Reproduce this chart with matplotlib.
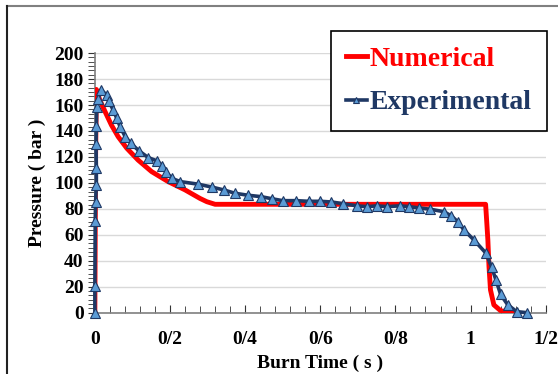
import matplotlib
matplotlib.use("Agg")
import matplotlib.pyplot as plt
from matplotlib.ticker import MultipleLocator
from matplotlib.lines import Line2D

exp_time = [0, 0.0, 0.001, 0.002, 0.004, 0.004, 0.003, 0.004, 0.005, 0.009, 0.016,
            0.031, 0.037, 0.049, 0.058, 0.067, 0.081, 0.096, 0.117, 0.142, 0.165,
            0.179, 0.189, 0.205, 0.227, 0.275, 0.311, 0.344, 0.373, 0.407, 0.442,
            0.471, 0.5, 0.536, 0.569, 0.6, 0.629, 0.66, 0.698, 0.724, 0.751, 0.778,
            0.811, 0.837, 0.862, 0.893, 0.929, 0.949, 0.967, 0.982, 1.009, 1.041,
            1.056, 1.068, 1.08, 1.099, 1.123, 1.149]
exp_pressure = [0, 20.5, 71, 85.5, 98.5, 111.7, 130, 144, 158.7, 164.6, 171.5,
                168, 163, 156, 150, 143.4, 135.5, 130.4, 124.8, 119.5, 117,
                113.3, 108.6, 103.5, 101, 99, 96.8, 94.5, 92, 90.5, 89.4,
                87.8, 86.3, 86.3, 85.8, 85.8, 85.3, 84, 82.3, 81.7, 82.3, 81.7,
                82.3, 81.7, 80.7, 79.7, 77.8, 74.5, 69.8, 63.8, 56, 45.8,
                35, 24.8, 14, 6, 0.8, 0]

# numerical data
num_time = [0, 0.002, 0.004, 0.013, 0.027, 0.044, 0.062, 0.085, 0.115, 0.151,
            0.195, 0.24, 0.28, 0.298, 0.32, 1.04, 1.043, 1.046, 1.049, 1.053,
            1.062, 1.08, 1.115]
num_pressure = [0, 120, 172, 164, 155, 144.6, 135.6, 126.7, 117.6, 108.7,
                101, 94.6, 88, 85.5, 83.5, 83.5, 70, 56, 35.5, 17.5,
                6, 1.5, 0]

x_ticks = [0, 0.2, 0.4, 0.6, 0.8, 1.0, 1.2]
x_labels = ["0", "0/2", "0/4", "0/6", "0/8", "1", "1/2"]

navy = "#1F3864"
plt.rcParams['font.family'] = ['Liberation Serif', 'DejaVu Serif']

fig = plt.figure(figsize=(5.58, 3.74), dpi=100)
ax = fig.add_axes([0.170, 0.164, 0.808, 0.694])

ax.plot(num_time, num_pressure, color='red', lw=3.5, label='Numerical', zorder=3)
ax.plot(exp_time, exp_pressure, color=navy, lw=2.6, marker='^', ms=7.5,
        markerfacecolor='#5B9BD5', markeredgecolor=navy, markeredgewidth=0.8,
        label='Experimental', zorder=4, clip_on=False)

ax.set_xlim(0, 1.2)
ax.set_ylim(0, 200)
ax.yaxis.set_major_locator(MultipleLocator(20))
ax.yaxis.set_minor_locator(MultipleLocator(20 / 6))
ax.set_xticks(x_ticks)
ax.set_xticklabels(x_labels)
ax.xaxis.set_minor_locator(MultipleLocator(0.04))

ax.grid(axis='y', color='#d9d9d9', lw=1)
ax.set_axisbelow(True)
for s in ['top', 'right']:
    ax.spines[s].set_visible(False)
for s in ['left', 'bottom']:
    ax.spines[s].set_color('#7f7f7f')
    ax.spines[s].set_linewidth(1.2)

ax.tick_params(axis='y', which='major', direction='out', length=5, color='#333333',
               labelsize=14, pad=3)
ax.tick_params(axis='y', which='minor', direction='out', length=5, color='#333333')
ax.tick_params(axis='x', which='major', direction='in', length=6, color='#333333',
               labelsize=14, pad=13)
ax.tick_params(axis='x', which='minor', direction='in', length=5, color='#333333')
for lab in ax.get_xticklabels() + ax.get_yticklabels():
    lab.set_fontweight('bold')

ax.set_xlabel('Burn Time ( s )', fontsize=14, fontweight='bold', labelpad=5)
ax.set_ylabel('Pressure ( bar )', fontsize=14, fontweight='bold', labelpad=6)

leg = fig.legend(loc='upper right', bbox_to_anchor=(0.980, 0.917),
                 prop={'size': 20, 'weight': 'bold'}, frameon=True, fancybox=False,
                 edgecolor='black', framealpha=1, handlelength=0.75,
                 handletextpad=0.1, borderpad=0.55, labelspacing=0.65,
                 borderaxespad=0, markerscale=0.6, labelcolor=['red', navy])
leg.get_frame().set_linewidth(1.2)

# outer frame of the picture
fig.add_artist(Line2D([7 / 558, 1], [1 - 6 / 374, 1 - 6 / 374], color='#808080', lw=1.5))
fig.add_artist(Line2D([7 / 558, 7 / 558], [0, 1 - 6 / 374], color='#222222', lw=1.5))

fig.savefig('out.png', dpi=100)
